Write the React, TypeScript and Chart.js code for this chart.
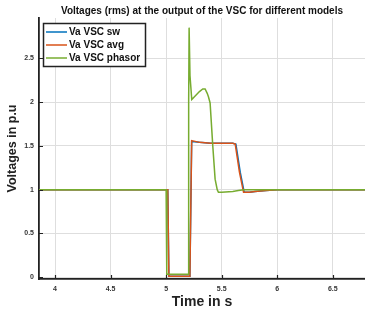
import React, { useEffect, useRef } from "react";
import { Chart, registerables } from "chart.js";

Chart.register(...registerables);

// ---- data ----
const titleText = "Voltages (rms) at the output of the VSC for different models";
const xTitle = "Time in s";
const yTitle = "Voltages in p.u";
const seriesNames = ["Va VSC sw", "Va VSC avg", "Va VSC phasor"];
const seriesColors = ["#0072BD", "#D95319", "#77AC30"];

const xTicks = [4, 4.5, 5, 5.5, 6, 6.5];
const yTicks = [0, 0.5, 1, 1.5, 2, 2.5];

const timeSw = [3.85, 5.0, 5.015, 5.025, 5.05, 5.2, 5.214, 5.23, 5.3, 5.4, 5.5, 5.6, 5.628, 5.667, 5.703, 5.75, 5.8, 5.9, 6.0, 6.8];
const voltSw = [1.0, 1.0, 1.0, 0.01, 0.01, 0.01, 0.01, 1.55, 1.54, 1.53, 1.53, 1.53, 1.52, 1.2, 0.97, 0.97, 0.98, 0.99, 1.0, 1.0];

const timeAvg = [3.85, 5.0, 5.015, 5.025, 5.05, 5.2, 5.214, 5.23, 5.3, 5.4, 5.5, 5.6, 5.622, 5.66, 5.697, 5.75, 5.8, 5.9, 6.0, 6.8];
const voltAvg = [1.0, 1.0, 1.0, 0.01, 0.01, 0.01, 0.01, 1.56, 1.54, 1.53, 1.53, 1.53, 1.52, 1.2, 0.97, 0.97, 0.98, 0.99, 1.0, 1.0];

const timePh = [3.85, 5.0, 5.006, 5.2, 5.203, 5.207, 5.215, 5.231, 5.27, 5.3, 5.33, 5.351, 5.37, 5.381, 5.396, 5.42, 5.441, 5.46, 5.471, 5.5, 5.6, 5.65, 5.7, 6.8];
const voltPh = [1.0, 1.0, 0.034, 0.034, 2.0, 2.85, 2.3, 2.03, 2.08, 2.12, 2.15, 2.15, 2.1, 2.06, 1.99, 1.5, 1.12, 1.0, 0.97, 0.97, 0.98, 0.99, 1.0, 1.0];

const seriesTimes = [timeSw, timeAvg, timePh];
const seriesValues = [voltSw, voltAvg, voltPh];

const FONT = "'Liberation Sans', Arial, sans-serif";

const decorPlugin = {
  id: "decor",
  afterDraw(chart: any) {
    const ctx = chart.ctx;
    const area = chart.chartArea;
    const xs = chart.scales.x;
    const ys = chart.scales.y;
    ctx.save();
    // inward ticks
    ctx.strokeStyle = "#222";
    ctx.lineWidth = 1.2;
    ctx.beginPath();
    xTicks.forEach((v) => {
      const px = Math.round(xs.getPixelForValue(v)) + 0.5;
      ctx.moveTo(px, area.bottom);
      ctx.lineTo(px, area.bottom - 4);
    });
    yTicks.forEach((v) => {
      const py = Math.round(ys.getPixelForValue(v)) + 0.5;
      ctx.moveTo(area.left, py);
      ctx.lineTo(area.left + 4, py);
    });
    ctx.stroke();

    // legend box
    const bx = 43.5, by = 23.5, bw = 102, bh = 43;
    ctx.fillStyle = "#fff";
    ctx.fillRect(bx, by, bw, bh);
    ctx.strokeStyle = "#222";
    ctx.lineWidth = 1.5;
    ctx.strokeRect(bx, by, bw, bh);
    ctx.font = "bold 10px " + FONT;
    ctx.textBaseline = "middle";
    ctx.textAlign = "left";
    seriesNames.forEach((name, i) => {
      const yy = 32 + i * 13;
      ctx.strokeStyle = seriesColors[i];
      ctx.lineWidth = 1.5;
      ctx.beginPath();
      ctx.moveTo(46, yy);
      ctx.lineTo(67, yy);
      ctx.stroke();
      ctx.fillStyle = "#111";
      ctx.fillText(name, 69, yy + 0.5);
    });
    ctx.restore();
  },
};

export default function App() {
  const ref = useRef<HTMLCanvasElement | null>(null);
  useEffect(() => {
    if (!ref.current) return;
    const datasets = seriesNames.map((name, i) => ({
      label: name,
      data: seriesTimes[i].map((t, j) => ({ x: t, y: seriesValues[i][j] })),
      borderColor: seriesColors[i],
      backgroundColor: seriesColors[i],
      borderWidth: 1.5,
      pointRadius: 0,
      tension: 0,
      fill: false,
      order: 2 - i,
    }));
    const chart = new Chart(ref.current, {
      type: "line",
      data: { datasets },
      plugins: [decorPlugin],
      options: {
        animation: false,
        responsive: false,
        maintainAspectRatio: false,
        layout: { padding: { left: 0, right: 0, top: 0, bottom: 0 } },
        plugins: {
          legend: { display: false },
          tooltip: { enabled: false },
          title: {
            display: true,
            text: titleText,
            fullSize: false,
            color: "#111",
            font: { family: FONT, size: 10, weight: "bold", lineHeight: 1.2 },
            padding: { top: 5, bottom: 1 },
          },
        },
        scales: {
          x: {
            type: "linear",
            min: 3.856,
            max: 6.79,
            afterBuildTicks: (s: any) => {
              s.ticks = xTicks.map((v) => ({ value: v }));
            },
            afterFit: (s: any) => {
              s.height = 35;
            },
            grid: { color: "#dedede", lineWidth: 1, drawTicks: false },
            border: { display: true, color: "#222", width: 1.8 },
            ticks: {
              color: "#333",
              padding: 6,
              font: { family: FONT, size: 7, weight: "bold" },
              maxRotation: 0,
              callback: (v: any) => String(v),
            },
            title: {
              display: true,
              text: xTitle,
              color: "#222",
              font: { family: FONT, size: 14, weight: "bold", lineHeight: 1.2 },
              padding: { top: 0, bottom: 3 },
            },
          },
          y: {
            type: "linear",
            min: -0.02,
            max: 2.96,
            afterBuildTicks: (s: any) => {
              s.ticks = yTicks.map((v) => ({ value: v }));
            },
            afterFit: (s: any) => {
              s.width = 39;
            },
            grid: { color: "#dedede", lineWidth: 1, drawTicks: false },
            border: { display: true, color: "#222", width: 1.8 },
            ticks: {
              color: "#333",
              padding: 5,
              font: { family: FONT, size: 7, weight: "bold" },
              callback: (v: any) => String(v),
            },
            title: {
              display: true,
              text: yTitle,
              color: "#222",
              font: { family: FONT, size: 12.5, weight: "bold", lineHeight: 1.2 },
              padding: { top: 5, bottom: 0 },
            },
          },
        },
      },
    });
    return () => chart.destroy();
  }, []);
  return (
    <div style={{ position: "absolute", left: 0, top: 0, width: 365, height: 314, background: "#fff" }}>
      <canvas ref={ref} width={365} height={314} style={{ display: "block" }} />
    </div>
  );
}
